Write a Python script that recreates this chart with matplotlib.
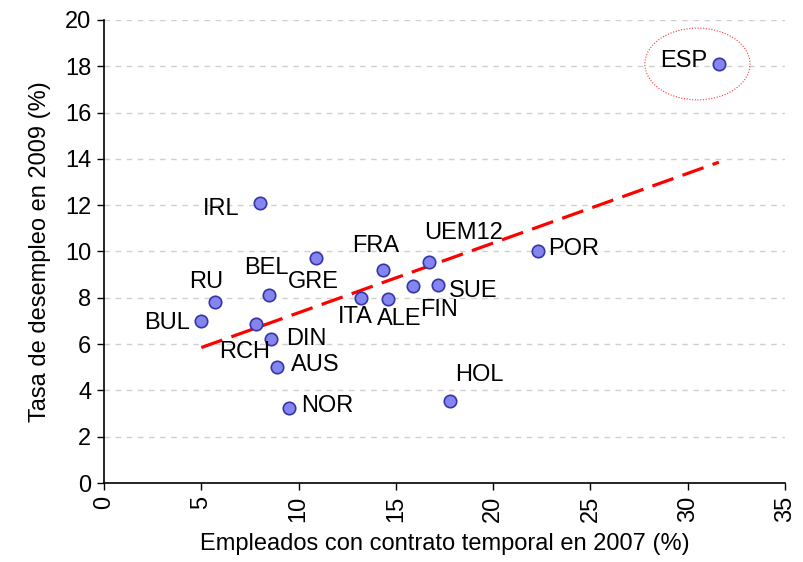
import numpy as np
import matplotlib
matplotlib.use("Agg")
import matplotlib.pyplot as plt
from matplotlib.patches import Ellipse

# ---- data ----
countries = ["BUL", "RU", "IRL", "RCH", "BEL", "DIN", "AUS", "NOR", "GRE",
             "ITA", "FRA", "ALE", "FIN", "SUE", "UEM12", "HOL", "POR", "ESP"]
temp_contract_2007 = [5.0, 5.7, 8.0, 7.8, 8.5, 8.6, 8.9, 9.5, 10.9,
                      13.2, 14.35, 14.6, 15.9, 17.15, 16.7, 17.8, 22.3, 31.6]
unemployment_2009 = [7.0, 7.8, 12.1, 6.85, 8.1, 6.2, 5.0, 3.25, 9.7,
                     8.0, 9.2, 7.95, 8.5, 8.55, 9.55, 3.55, 10.0, 18.1]
x_ticks = [0, 5, 10, 15, 20, 25, 30, 35]
y_ticks = [0, 2, 4, 6, 8, 10, 12, 14, 16, 18, 20]

# ---- layout: label offsets (pixels, text centre relative to point) ----
label_offsets = {
    "BUL": (-34, -2), "RU": (-9, 20), "IRL": (-38, -6), "RCH": (-11, -28),
    "BEL": (-3, 27), "DIN": (35, 0), "AUS": (38, 2), "NOR": (38, 2),
    "GRE": (-3, -24), "ITA": (-6, -19), "FRA": (-8, 24), "ALE": (11, -20),
    "FIN": (26, -24), "SUE": (36, -6), "UEM12": (35, 29), "HOL": (29, 26),
    "POR": (36, 2), "ESP": (-35, 3),
}

plt.rcParams['font.family'] = ['Liberation Sans', 'DejaVu Sans']
FS = 17

fig = plt.figure(figsize=(8.04, 5.62), dpi=100)
ax = fig.add_axes([104/804, 1-483/562, (785-104)/804, (483-20)/562])

ax.set_xlim(0, 35)
ax.set_ylim(0, 20)
ax.set_xticks(x_ticks)
ax.set_yticks(y_ticks)
ax.set_xticklabels([str(t) for t in x_ticks], rotation=90)
ax.tick_params(axis='both', labelsize=FS, direction='out', length=5, width=1, colors='black')
ax.tick_params(axis='x', pad=4)
ax.tick_params(axis='y', pad=4)

for s in ['top', 'right']:
    ax.spines[s].set_visible(False)
for s in ['left', 'bottom']:
    ax.spines[s].set_linewidth(1.2)
    ax.spines[s].set_color('black')

ax.yaxis.grid(True, color='#d0d0d0', linestyle=(0, (4, 4)), linewidth=1)
ax.set_axisbelow(True)

# trend line (least squares fit)
xs = np.array(temp_contract_2007)
ys = np.array(unemployment_2009)
m, b = np.polyfit(xs, ys, 1)
xl = np.array([xs.min(), xs.max()])
ax.plot(xl, m * xl + b, color='#ff0000', linewidth=2.3, linestyle=(0, (7, 3)), zorder=2)

ax.scatter(xs, ys, s=80, facecolor='#8585f0', edgecolor='#3535a8', linewidth=1.2, zorder=3)

for c, x, y in zip(countries, temp_contract_2007, unemployment_2009):
    dx, dy = label_offsets[c]
    ax.annotate(c, (x, y), xytext=(dx, dy), textcoords='offset pixels',
                ha='center', va='center', fontsize=FS, color='black', zorder=4)

# dotted ellipse around ESP
ei = countries.index("ESP")
ax.add_patch(Ellipse((temp_contract_2007[ei] - 1.1, unemployment_2009[ei]), 5.4, 3.1,
                     fill=False, edgecolor='#ff3333', linestyle=(0, (1, 1.5)), linewidth=0.8))

ax.set_xlabel("Empleados con contrato temporal en 2007 (%)", fontsize=FS, labelpad=8)
ax.set_ylabel("Tasa de desempleo en 2009 (%)", fontsize=FS, labelpad=10)

fig.savefig("out.png", dpi=100)
